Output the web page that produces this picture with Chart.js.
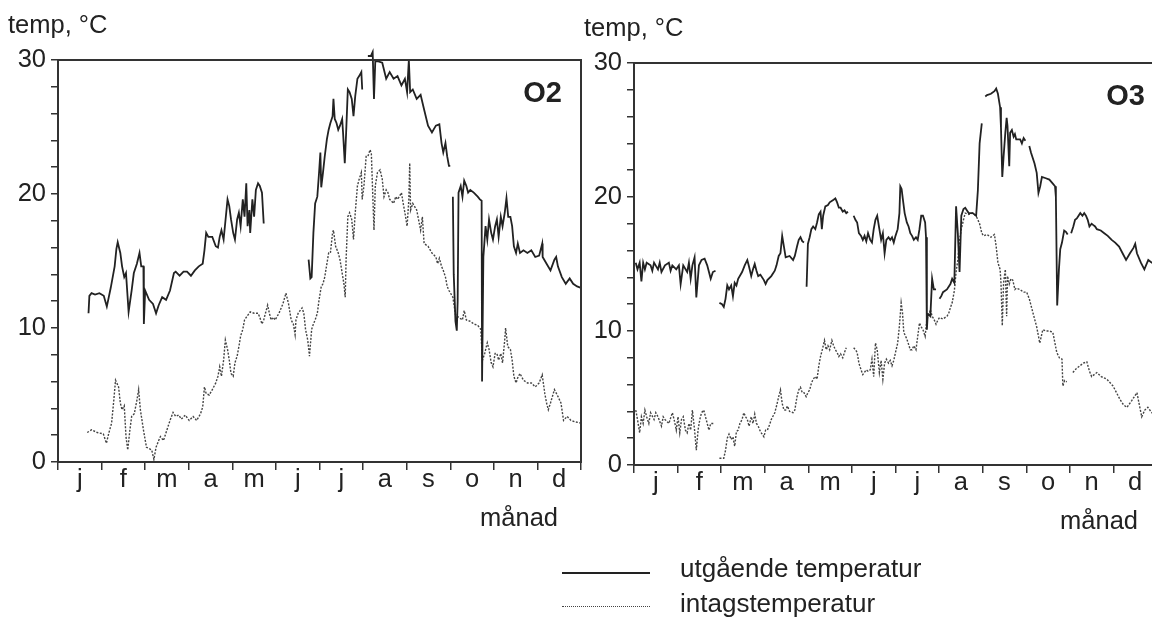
<!DOCTYPE html>
<html>
<head>
<meta charset="utf-8">
<title>temp O2 / O3</title>
<script src="https://cdn.jsdelivr.net/npm/chart.js@4.4.0/dist/chart.umd.min.js"></script>
<style>
  html, body { margin: 0; padding: 0; background: #fff; overflow: hidden; }
  body { width: 1152px; height: 617px; position: relative; color: #222;
         font-family: "Liberation Sans", Arial, sans-serif; }
  canvas { position: absolute; }
  #chart-o2 { left: 0; top: 0; }
  #chart-o3 { left: 576px; top: 3px; }
  .key-line { position: absolute; left: 562px; width: 88px; height: 0; }
  .key-solid { top: 572px; border-top: 2px solid #222; }
  .key-dotted { top: 606px; border-top: 1.5px dotted #444; }
  .key-text { position: absolute; left: 680px; font-size: 26px; line-height: 26px; white-space: nowrap; }
</style>
</head>
<body>
<canvas id="chart-o2" width="600" height="617"></canvas>
<canvas id="chart-o3" width="600" height="617"></canvas>

<div class="key-line key-solid"></div>
<div class="key-text" style="top:555px">utgående temperatur</div>
<div class="key-line key-dotted"></div>
<div class="key-text" style="top:590px">intagstemperatur</div>

<script>
/* ==========================================================
   DATA  (x = month position 0..12, y = °C, null = no data)
   ==========================================================*/
const monthLabels = ["j", "f", "m", "a", "m", "j", "j", "a", "s", "o", "n", "d"];

// O2 – outgoing water temperature
const o2Out = [
  [0.70,11.1],[0.72,12.4],[0.77,12.6],[0.85,12.5],[0.95,12.6],[1.05,12.4],[1.12,11.6],[1.21,13.0],
  [1.30,14.6],[1.34,15.9],[1.37,16.4],[1.43,15.6],[1.47,14.6],[1.52,13.8],[1.56,14.1],[1.62,11.2],
  [1.69,12.8],[1.74,14.1],[1.81,14.8],[1.87,15.6],[1.91,14.6],[1.96,14.6],[1.97,10.3],[2.00,12.8],
  [2.09,12.1],[2.18,11.8],[2.25,11.1],[2.31,11.7],[2.39,12.3],[2.48,12.1],[2.57,12.8],[2.66,14.1],
  [2.70,14.2],[2.79,13.9],[2.88,14.2],[2.96,14.2],[3.05,13.9],[3.14,14.3],[3.23,14.6],[3.32,14.8],
  [3.36,15.8],[3.40,17.1],[3.45,16.8],[3.54,16.8],[3.62,16.1],[3.67,16.0],[3.71,16.8],[3.75,17.3],
  [3.80,16.6],[3.89,19.6],[3.93,19.1],[3.97,18.1],[4.02,17.1],[4.06,16.6],[4.11,18.1],[4.15,18.6],
  [4.19,17.6],[4.24,19.6],[4.28,18.3],[4.32,20.8],[4.35,17.6],[4.39,18.8],[4.41,17.1],[4.46,19.6],
  [4.50,18.3],[4.54,20.3],[4.59,20.8],[4.63,20.6],[4.68,20.1],[4.72,17.8],
  [5.20,null],
  [5.75,15.1],[5.79,13.7],[5.82,13.8],[5.86,17.1],[5.90,19.3],[5.95,19.8],[5.99,21.6],[6.02,23.1],
  [6.04,20.5],[6.08,21.6],[6.12,22.8],[6.17,24.1],[6.21,24.8],[6.25,25.3],[6.30,25.8],[6.32,27.1],
  [6.35,25.6],[6.39,25.3],[6.43,24.8],[6.47,25.1],[6.52,25.6],[6.54,24.6],[6.58,22.3],[6.61,24.5],
  [6.65,27.8],[6.69,27.6],[6.74,27.1],[6.78,25.8],[6.82,27.3],[6.87,28.6],[6.91,28.8],[6.96,29.1],
  [6.98,27.8],
  [7.05,null],
  [7.11,30.3],[7.18,30.3],[7.22,30.6],[7.25,27.1],[7.28,29.9],[7.35,29.9],[7.44,29.8],[7.53,28.6],
  [7.61,29.1],[7.70,28.6],[7.79,28.8],[7.88,28.1],[7.96,28.6],[8.01,27.6],[8.05,30.0],[8.08,27.6],
  [8.14,27.8],[8.23,27.1],[8.32,27.4],[8.40,26.3],[8.49,25.1],[8.58,24.6],[8.67,25.1],[8.75,25.2],
  [8.80,23.8],[8.84,23.1],[8.89,23.8],[8.93,22.8],[8.97,22.1],[9.00,22.1],
  [9.03,null],
  [9.06,19.8],[9.08,14.0],[9.12,10.5],[9.15,9.8],[9.17,12.0],[9.19,20.1],[9.24,20.6],[9.28,19.8],
  [9.32,21.0],[9.37,20.6],[9.41,20.1],[9.46,20.3],[9.54,20.1],[9.63,19.8],[9.68,19.6],[9.72,19.5],
  [9.73,6.0],[9.76,15.3],[9.81,17.6],[9.85,16.6],[9.89,18.1],[9.94,17.1],[9.98,16.6],[10.03,17.6],
  [10.07,18.1],[10.11,16.8],[10.16,18.3],[10.20,17.6],[10.25,18.6],[10.29,19.7],[10.33,18.3],
  [10.38,18.3],[10.42,17.6],[10.46,16.1],[10.51,15.6],[10.55,16.3],[10.60,15.6],[10.68,15.8],
  [10.77,15.6],[10.86,15.8],[10.95,15.3],[11.04,15.4],[11.11,16.3],[11.12,15.3],[11.21,14.8],
  [11.30,14.3],[11.39,15.1],[11.43,15.3],[11.47,14.6],[11.56,13.8],[11.65,13.3],[11.74,13.7],
  [11.82,13.3],[11.91,13.1],[12.00,13.0]
];

// O2 – intake water temperature
const o2In = [
  [0.67,2.2],[0.77,2.4],[0.90,2.2],[1.04,2.1],[1.11,1.4],[1.17,2.2],[1.23,2.9],[1.28,4.6],[1.32,6.1],
  [1.39,5.6],[1.43,4.4],[1.47,3.9],[1.52,4.2],[1.56,1.9],[1.60,0.9],[1.65,2.4],[1.69,3.4],[1.75,3.6],
  [1.81,4.6],[1.85,5.4],[1.89,3.9],[1.96,2.4],[2.03,1.1],[2.09,1.0],[2.15,0.9],[2.20,0.2],[2.25,1.1],
  [2.31,1.6],[2.35,1.9],[2.42,1.6],[2.48,2.2],[2.57,3.1],[2.64,3.7],[2.70,3.4],[2.77,3.5],[2.83,3.2],
  [2.92,3.5],[3.01,3.1],[3.10,3.4],[3.18,3.1],[3.27,3.6],[3.32,4.1],[3.36,5.6],[3.40,5.1],[3.47,5.0],
  [3.54,5.4],[3.62,5.9],[3.67,6.4],[3.71,7.1],[3.75,6.4],[3.80,7.6],[3.84,9.1],[3.89,8.4],[3.93,7.6],
  [3.97,6.6],[4.02,6.4],[4.06,7.4],[4.11,7.9],[4.15,8.6],[4.19,9.4],[4.24,9.9],[4.28,10.6],[4.32,10.8],
  [4.41,11.2],[4.50,11.1],[4.59,11.1],[4.63,10.8],[4.68,10.3],[4.72,10.6],[4.76,11.1],[4.81,11.7],
  [4.85,11.1],[4.89,10.6],[4.94,10.8],[4.98,10.6],[5.07,11.1],[5.16,11.8],[5.23,12.6],[5.29,11.8],
  [5.35,10.6],[5.40,10.3],[5.44,9.5],[5.46,10.6],[5.51,11.1],[5.60,11.5],[5.64,11.1],[5.68,9.9],
  [5.73,9.1],[5.77,7.9],[5.82,9.9],[5.86,10.3],[5.90,10.6],[5.95,11.1],[5.99,12.1],[6.04,13.1],
  [6.08,13.3],[6.12,13.8],[6.17,14.8],[6.21,15.6],[6.25,15.6],[6.30,17.1],[6.32,17.3],[6.37,16.1],
  [6.43,15.6],[6.47,15.1],[6.52,14.1],[6.56,13.3],[6.59,12.3],[6.61,15.1],[6.65,18.3],[6.69,18.6],
  [6.74,18.1],[6.78,16.6],[6.82,18.6],[6.87,20.6],[6.91,21.1],[6.96,21.6],[6.98,19.6],[7.02,20.6],
  [7.07,22.8],[7.11,22.8],[7.16,23.3],[7.19,23.0],[7.25,17.3],[7.28,20.6],[7.33,21.6],[7.39,21.8],
  [7.44,21.1],[7.48,19.8],[7.53,20.3],[7.57,20.1],[7.61,19.6],[7.70,19.3],[7.75,19.8],[7.79,19.6],
  [7.83,19.8],[7.88,20.1],[7.92,19.3],[7.96,18.6],[8.01,17.6],[8.05,19.6],[8.07,22.3],[8.09,18.8],
  [8.14,19.3],[8.23,18.8],[8.32,17.3],[8.36,18.3],[8.40,16.3],[8.49,16.1],[8.58,15.6],[8.67,15.3],
  [8.71,14.8],[8.75,15.2],[8.80,14.6],[8.84,14.3],[8.89,13.8],[8.93,13.1],[8.97,12.8],[9.06,12.3],
  [9.12,11.0],[9.19,10.8],[9.28,10.6],[9.32,11.3],[9.37,10.6],[9.46,10.5],[9.54,10.3],[9.63,10.2],
  [9.70,9.9],[9.74,7.6],[9.79,8.1],[9.85,8.9],[9.89,8.4],[9.94,7.4],[9.98,7.1],[10.03,8.1],[10.07,8.1],
  [10.11,7.6],[10.16,8.1],[10.20,7.4],[10.25,9.1],[10.27,10.0],[10.32,8.6],[10.38,8.4],[10.42,7.6],
  [10.46,6.4],[10.51,5.9],[10.55,6.3],[10.60,6.6],[10.68,6.1],[10.77,5.9],[10.86,5.9],[10.95,5.6],
  [11.04,5.9],[11.11,6.5],[11.17,5.1],[11.21,4.4],[11.25,3.9],[11.30,4.4],[11.39,5.4],[11.47,4.9],
  [11.54,4.4],[11.60,3.1],[11.68,3.4],[11.77,3.1],[11.86,3.0],[12.00,2.9]
];

// O3 – outgoing water temperature
const o3Out = [
  [0.04,15.1],[0.08,14.6],[0.13,15.1],[0.17,13.7],[0.21,15.1],[0.25,14.6],[0.29,15.1],[0.38,14.9],
  [0.42,14.5],[0.46,15.1],[0.55,14.6],[0.59,15.1],[0.63,14.4],[0.71,14.9],[0.80,15.1],[0.84,14.5],
  [0.88,14.9],[0.97,14.6],[1.03,14.9],[1.07,13.5],[1.13,14.9],[1.22,14.4],[1.26,15.1],[1.30,13.9],
  [1.34,14.9],[1.39,15.5],[1.43,12.5],[1.49,14.9],[1.55,15.3],[1.62,15.4],[1.68,14.9],[1.72,14.4],
  [1.76,13.9],[1.81,14.4],[1.87,14.5],
  [1.92,null],
  [1.96,12.1],[2.02,12.0],[2.06,11.8],[2.10,12.4],[2.14,13.4],[2.18,13.1],[2.23,13.4],[2.27,12.6],
  [2.31,13.6],[2.35,13.4],[2.39,13.9],[2.48,14.4],[2.54,14.9],[2.60,15.3],[2.64,14.8],[2.69,14.1],
  [2.73,14.6],[2.77,15.0],[2.81,14.5],[2.85,14.1],[2.90,14.2],[2.98,13.8],[3.02,13.5],[3.06,13.8],
  [3.15,14.1],[3.23,14.5],[3.27,14.9],[3.32,15.6],[3.36,15.8],[3.40,17.1],[3.44,16.3],[3.48,15.5],
  [3.57,15.6],[3.65,15.3],[3.69,15.6],[3.74,16.3],[3.78,16.8],[3.82,17.0],[3.86,16.7],[3.90,16.6],
  [3.93,null],
  [3.96,13.3],[3.99,16.5],[4.03,17.0],[4.07,17.6],[4.11,17.8],[4.16,17.6],[4.20,18.1],[4.24,18.7],
  [4.28,18.9],[4.31,17.6],[4.34,18.6],[4.39,19.3],[4.45,19.4],[4.49,19.6],[4.58,19.8],[4.62,19.9],
  [4.66,19.6],[4.70,19.2],[4.74,19.2],[4.79,18.9],[4.83,19.0],[4.87,18.8],[4.91,18.9],
  [4.97,null],
  [5.04,18.6],[5.08,18.3],[5.12,18.1],[5.16,17.3],[5.21,17.1],[5.25,16.8],[5.29,17.1],[5.33,16.7],
  [5.37,17.3],[5.42,16.8],[5.46,16.6],[5.50,17.6],[5.54,18.3],[5.58,18.6],[5.63,17.6],[5.67,16.8],
  [5.71,17.3],[5.75,15.8],[5.79,16.8],[5.84,17.0],[5.88,16.8],[5.92,17.0],[5.96,16.6],[6.00,17.1],
  [6.05,17.6],[6.09,18.8],[6.11,20.8],[6.14,20.6],[6.17,19.8],[6.21,18.8],[6.26,18.1],[6.30,17.8],
  [6.34,17.3],[6.38,17.1],[6.42,16.8],[6.47,17.0],[6.51,16.8],[6.55,17.6],[6.59,18.6],[6.63,18.6],
  [6.68,18.1],[6.70,17.0],[6.72,10.1],[6.74,11.3],[6.80,11.1],[6.84,13.9],[6.88,13.1],[6.93,13.1],
  [6.97,null],
  [7.01,12.4],[7.05,12.6],[7.09,12.9],[7.18,13.1],[7.26,13.5],[7.30,13.9],[7.35,13.6],[7.39,19.3],
  [7.43,17.3],[7.47,14.4],[7.51,18.6],[7.56,19.1],[7.60,19.2],[7.64,19.0],[7.68,18.8],[7.77,18.8],
  [7.85,18.6],[7.89,20.5],[7.93,24.0],[7.98,25.5],
  [8.02,null],
  [8.06,27.5],[8.10,27.6],[8.19,27.7],[8.27,27.9],[8.31,28.1],[8.35,27.7],[8.40,26.7],[8.42,25.2],
  [8.45,21.5],[8.48,23.0],[8.52,24.8],[8.55,25.9],[8.57,25.3],[8.61,22.3],[8.63,24.8],[8.67,25.0],
  [8.71,24.5],[8.74,24.7],[8.77,24.3],[8.86,24.3],[8.90,24.0],[8.94,24.4],[8.98,24.2],
  [9.02,null],
  [9.07,23.8],[9.11,23.3],[9.19,22.5],[9.24,21.8],[9.28,20.3],[9.32,20.8],[9.36,21.5],[9.45,21.4],
  [9.53,21.3],[9.61,21.0],[9.66,20.8],[9.68,20.0],[9.71,11.9],[9.75,14.6],[9.78,16.1],[9.82,16.6],
  [9.87,17.5],[9.91,17.4],[9.95,17.2],
  [9.99,null],
  [10.03,17.3],[10.08,17.8],[10.12,18.3],[10.16,18.4],[10.20,18.6],[10.24,18.8],[10.29,18.6],
  [10.33,18.8],[10.37,18.6],[10.41,18.3],[10.45,17.8],[10.50,18.0],[10.54,17.9],[10.58,17.8],
  [10.62,17.6],[10.71,17.5],[10.79,17.3],[10.87,17.1],[10.96,16.8],[11.04,16.6],[11.13,16.3],
  [11.21,15.8],[11.29,15.3],[11.38,15.8],[11.46,16.2],[11.50,16.5],[11.54,15.8],[11.63,15.1],
  [11.71,14.6],[11.80,15.3],[11.88,15.1],[12.00,15.0]
];

// O3 – intake water temperature
const o3In = [
  [0.04,4.1],[0.08,3.4],[0.13,2.4],[0.17,3.6],[0.21,3.1],[0.25,4.1],[0.29,3.6],[0.34,3.1],[0.38,3.9],
  [0.46,3.4],[0.50,3.9],[0.55,3.6],[0.63,2.9],[0.67,3.6],[0.71,3.4],[0.80,3.1],[0.88,3.9],[0.92,3.4],
  [0.97,2.6],[1.01,3.6],[1.05,2.4],[1.09,3.4],[1.13,3.6],[1.18,2.6],[1.22,2.4],[1.26,3.1],[1.30,2.6],
  [1.34,4.1],[1.39,2.6],[1.43,1.1],[1.47,2.6],[1.51,3.4],[1.55,3.9],[1.60,4.1],[1.64,3.6],[1.68,3.1],
  [1.72,2.6],[1.76,3.1],[1.85,3.1],
  [1.92,null],
  [1.96,0.5],[2.06,0.5],[2.10,1.1],[2.14,2.0],[2.18,2.3],[2.23,1.9],[2.27,2.1],[2.31,1.4],[2.35,2.5],
  [2.39,2.6],[2.43,3.1],[2.48,3.4],[2.52,3.9],[2.56,3.6],[2.60,3.4],[2.64,2.9],[2.69,3.6],[2.73,3.1],
  [2.77,3.8],[2.81,3.1],[2.85,2.9],[2.90,2.5],[2.98,2.1],[3.02,2.6],[3.06,2.6],[3.11,3.0],[3.15,3.4],
  [3.23,3.9],[3.27,4.4],[3.32,5.1],[3.36,5.6],[3.40,4.6],[3.44,4.1],[3.48,4.1],[3.52,4.4],[3.57,4.0],
  [3.65,3.9],[3.69,4.1],[3.74,5.1],[3.78,5.6],[3.82,5.8],[3.86,5.4],[3.90,5.4],[3.95,5.1],[3.99,5.4],
  [4.03,5.6],[4.07,6.1],[4.11,6.4],[4.16,6.6],[4.20,6.4],[4.24,7.4],[4.28,8.1],[4.32,8.6],[4.37,9.3],
  [4.41,8.6],[4.45,8.9],[4.49,8.6],[4.54,9.3],[4.58,8.9],[4.62,8.6],[4.66,8.4],[4.70,8.1],[4.74,8.3],
  [4.79,8.0],[4.83,8.4],[4.87,8.75],
  [4.95,null],
  [5.04,8.75],[5.08,8.6],[5.12,8.4],[5.16,7.6],[5.21,7.1],[5.25,6.75],[5.33,7.1],[5.37,7.0],[5.42,7.1],
  [5.46,7.9],[5.50,6.6],[5.54,9.1],[5.58,8.6],[5.63,6.9],[5.67,7.8],[5.71,6.4],[5.75,7.6],[5.79,7.9],
  [5.84,7.6],[5.88,7.8],[5.92,7.4],[5.96,7.8],[6.00,8.4],[6.05,9.1],[6.09,10.4],[6.13,12.1],[6.16,11.4],
  [6.19,9.9],[6.26,9.4],[6.30,9.0],[6.34,8.6],[6.38,8.6],[6.42,8.9],[6.47,8.6],[6.51,9.6],[6.55,10.6],
  [6.59,10.3],[6.63,10.1],[6.68,9.6],[6.72,10.9],[6.76,11.1],[6.80,11.6],[6.84,11.1],[6.88,10.9],
  [6.93,10.5],[6.97,10.8],[7.01,11.0],[7.09,10.9],[7.18,11.1],[7.22,11.3],[7.26,11.75],[7.30,12.1],
  [7.35,13.0],[7.39,14.4],[7.43,15.3],[7.47,16.8],[7.51,17.6],[7.56,18.3],[7.60,18.8],[7.68,18.7],
  [7.77,18.8],[7.85,18.6],[7.89,18.3],[7.93,18.0],[7.98,17.3],[8.02,17.1],[8.10,17.2],[8.19,17.0],
  [8.27,17.2],[8.31,16.3],[8.35,15.1],[8.40,14.6],[8.42,13.6],[8.45,10.4],[8.48,13.6],[8.52,14.6],
  [8.55,11.1],[8.57,14.1],[8.61,13.5],[8.65,13.9],[8.69,13.8],[8.74,13.1],[8.77,13.2],[8.85,13.1],
  [8.94,12.9],[9.01,12.9],[9.07,12.4],[9.15,11.4],[9.24,10.3],[9.31,9.1],[9.38,10.1],[9.45,10.0],
  [9.53,10.0],[9.61,9.9],[9.70,8.4],[9.76,8.0],[9.82,7.9],[9.84,5.9],[9.88,6.3],[9.93,6.2],
  [9.98,null],
  [10.07,6.9],[10.15,7.2],[10.23,7.4],[10.31,7.6],[10.39,7.7],[10.45,7.0],[10.50,6.6],[10.62,6.9],
  [10.72,6.6],[10.85,6.4],[10.99,5.9],[11.07,5.4],[11.15,4.9],[11.23,4.5],[11.31,4.3],[11.42,4.8],
  [11.54,5.4],[11.60,4.4],[11.65,3.6],[11.72,4.1],[11.79,4.3],[11.88,3.9],[12.00,4.0]
];

/* ==========================================================
   SHARED STYLE
   ==========================================================*/
const INK = "#222";
const AXIS = "#333";
const FONT = "'Liberation Sans', Arial, Helvetica, sans-serif";
const TEXT_SIZE = 25.5;

const toPoints = (rows) => rows.map(([x, y]) => ({ x, y }));

/* ==========================================================
   PLUGIN: frame, axis captions and panel name
   ==========================================================*/
const panelText = {
  id: "panelText",
  afterDraw(chart, args, opts) {
    const { ctx, chartArea } = chart;
    ctx.save();

    ctx.strokeStyle = AXIS;
    ctx.lineWidth = 2;
    ctx.strokeRect(chartArea.left, chartArea.top, chartArea.width, chartArea.height);

    ctx.fillStyle = INK;
    ctx.textBaseline = "alphabetic";
    ctx.font = `${TEXT_SIZE}px ${FONT}`;
    ctx.textAlign = "left";
    ctx.fillText("temp, °C", chartArea.left - 50, chartArea.top - 27);

    ctx.textAlign = "right";
    ctx.fillText("månad", chartArea.right - opts.unitInset, chartArea.bottom + 64);

    ctx.font = `bold 29px ${FONT}`;
    ctx.fillText(opts.name, chartArea.right - opts.nameInset, chartArea.top + 42);
    ctx.restore();
  },
};

/* ==========================================================
   CHART BUILDER
   ==========================================================*/
function renderPanel(canvasId, name, outgoing, intake, insets) {
  new Chart(document.getElementById(canvasId), {
    type: "line",
    data: {
      datasets: [
        {
          label: "utgående temperatur",
          data: toPoints(outgoing),
          xAxisID: "x",
          borderColor: INK,
          borderWidth: 1.8,
          pointRadius: 0,
          tension: 0,
          spanGaps: false,
          clip: false,
        },
        {
          label: "intagstemperatur",
          data: toPoints(intake),
          xAxisID: "x",
          borderColor: "#444",
          borderWidth: 1.4,
          borderDash: [2, 1.5],
          pointRadius: 0,
          tension: 0,
          spanGaps: false,
          clip: false,
        },
      ],
    },
    options: {
      responsive: false,
      animation: false,
      events: [],
      layout: { padding: { left: 0, top: 60, right: 19, bottom: 115 } },
      plugins: {
        legend: { display: false },
        tooltip: { enabled: false },
        panelText: { name, ...insets },
      },
      scales: {
        x: { type: "linear", min: 0, max: 12, display: false },
        month: {
          type: "category",
          labels: monthLabels,
          position: "bottom",
          offset: true,
          afterFit(scale) { scale.height = 40; },
          border: { color: AXIS, width: 2 },
          grid: { offset: true, drawOnChartArea: false, tickLength: 8, color: AXIS, lineWidth: 1.5 },
          ticks: { padding: -5, color: INK, autoSkip: false, maxRotation: 0, font: { family: FONT, size: TEXT_SIZE } },
        },
        y: {
          min: 0,
          max: 30,
          afterFit(scale) { scale.width = 58; },
          border: { color: AXIS, width: 2 },
          grid: { drawOnChartArea: false, tickLength: 7, color: AXIS, lineWidth: 1.5 },
          ticks: {
            stepSize: 2,
            autoSkip: false,
            padding: 5,
            color: INK,
            font: { family: FONT, size: TEXT_SIZE },
            callback: (v) => (v % 10 === 0 ? v : ""),
          },
        },
      },
    },
    plugins: [panelText],
  });
}

renderPanel("chart-o2", "O2", o2Out, o2In, { nameInset: 19, unitInset: 23 });
renderPanel("chart-o3", "O3", o3Out, o3In, { nameInset: 12, unitInset: 19 });
</script>
</body>
</html>
